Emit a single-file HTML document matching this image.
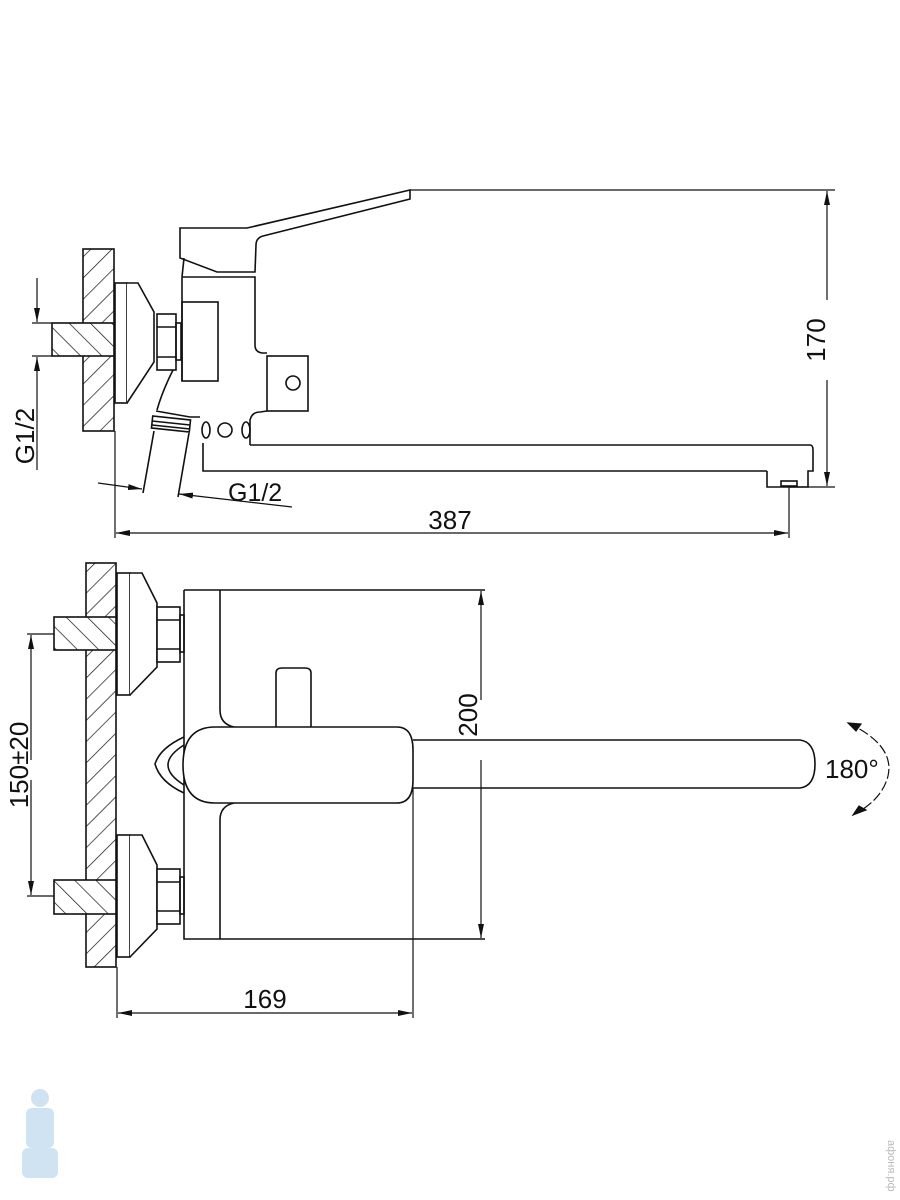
<!DOCTYPE html>
<html><head><meta charset="utf-8"><style>
html,body{margin:0;padding:0;background:#fff;}
svg{display:block;}
text{font-family:"Liberation Sans",sans-serif;fill:#111;}
</style></head><body>
<svg width="900" height="1200" viewBox="0 0 900 1200" xmlns="http://www.w3.org/2000/svg">
<defs>
<pattern id="h1" patternUnits="userSpaceOnUse" width="15" height="15" patternTransform="rotate(45)">
<rect width="15" height="15" fill="#fff"/><line x1="0" y1="0" x2="0" y2="15" stroke="#111" stroke-width="1.4"/></pattern>
<pattern id="h2" patternUnits="userSpaceOnUse" width="15" height="15" patternTransform="rotate(-45)">
<rect width="15" height="15" fill="#fff"/><line x1="0" y1="0" x2="0" y2="15" stroke="#111" stroke-width="1.4"/></pattern>
<marker id="a" markerWidth="14" markerHeight="6" refX="14" refY="3" orient="auto" markerUnits="userSpaceOnUse"><path d="M0,0 L14,3 L0,6z" fill="#111"/></marker>
</defs>
<g fill="none" stroke="#111" stroke-width="1.6">
<!-- ===== TOP VIEW ===== -->
<rect x="83" y="249" width="31" height="182" fill="url(#h1)"/>
<rect x="52" y="323" width="62" height="33" fill="url(#h2)"/>
<rect x="115" y="283" width="12" height="120" fill="#fff"/>
<path d="M127,283 L138,283 L154,312 L154,362 L127,403" fill="#fff"/>
<rect x="157" y="314" width="19" height="56" fill="#fff"/>
<line x1="157" y1="327" x2="176" y2="327"/><line x1="157" y1="357" x2="176" y2="357"/>
<rect x="176" y="323" width="5" height="37"/>
<path d="M182,277 L182,381 M182,277 L255,277 L255,345 Q255,352 262,353 L267,353"/>
<rect x="182" y="302" width="36" height="79"/>
<rect x="267" y="356" width="41" height="55"/>
<circle cx="293" cy="383" r="7"/>
<path d="M180,229 L180,258 L217,272 L255,272 L256,245 Q256,238 263,236 L410,199 L410,190 L247,228 L180,228Z"/>
<path d="M184,258 L182,277"/>
<path d="M173,370 Q162,392 157,410"/>
<path d="M156,411 L190,417 L200,417"/>
<rect x="152" y="418" width="38" height="12" transform="rotate(6 171 424)"/>
<line x1="152" y1="421" x2="190" y2="425"/><line x1="152" y1="425" x2="190" y2="429"/>
<line x1="154" y1="431" x2="143" y2="493"/><line x1="189" y1="433" x2="178" y2="497"/>
<ellipse cx="206" cy="430" rx="4" ry="8"/><circle cx="225" cy="430" r="7"/><ellipse cx="246" cy="430" rx="4" ry="8"/>
<path d="M250,445 L250,420 Q252,412 260,412 L267,411"/>
<path d="M203,443 L203,471 L767,471 M250,445 L810,445 Q813,445 813,450 L813,471 L808,471 L808,487 L767,487 L767,471"/>
<rect x="781" y="481" width="16" height="5"/>
<g stroke-width="1.2">
<line x1="410" y1="190" x2="835" y2="190"/>
<line x1="790" y1="487" x2="835" y2="487"/>
<line x1="827" y1="300" x2="827" y2="191" marker-end="url(#a)"/>
<line x1="827" y1="380" x2="827" y2="486" marker-end="url(#a)"/>
<line x1="115" y1="431" x2="115" y2="538"/>
<line x1="789" y1="487" x2="789" y2="538"/>
<line x1="450" y1="533" x2="116" y2="533" marker-end="url(#a)"/>
<line x1="450" y1="533" x2="788" y2="533" marker-end="url(#a)"/>
<line x1="32" y1="323" x2="52" y2="323"/><line x1="32" y1="356" x2="52" y2="356"/>
<line x1="37" y1="278" x2="37" y2="322" marker-end="url(#a)"/>
<line x1="37" y1="470" x2="37" y2="357" marker-end="url(#a)"/>
<line x1="98" y1="483" x2="142" y2="489" marker-end="url(#a)"/>
<line x1="292" y1="507" x2="179" y2="494" marker-end="url(#a)"/>
</g>
<!-- ===== BOTTOM VIEW ===== -->
<rect x="86" y="563" width="30" height="404" fill="url(#h1)"/>
<rect x="54" y="617" width="62" height="33" fill="url(#h2)"/>
<rect x="54" y="880" width="62" height="34" fill="url(#h2)"/>
<g id="fl">
<rect x="117" y="573" width="13" height="122" fill="#fff"/>
<path d="M130,573 L142,573 L157,603 L157,667 L130,695" fill="#fff"/>
<rect x="157" y="607" width="23" height="55" fill="#fff"/>
<line x1="157" y1="620" x2="180" y2="620"/><line x1="157" y1="649" x2="180" y2="649"/>
<rect x="180" y="615" width="4" height="37"/>
</g>
<use href="#fl" transform="translate(0,262)"/>
<path d="M184,590 L485,590 M184,590 L184,939 L485,939"/>
<path d="M220,590 L220,710 Q220,724 234,727"/>
<path d="M234,803 Q220,806 220,820 L220,939"/>
<path d="M276,727 L276,673 Q276,668 282,668 L305,668 Q311,668 311,673 L311,727"/>
<path d="M215,727 L397,727 Q413,727 413,750 L413,780 Q413,803 397,803 L215,803 Q183,803 183,765 Q183,727 215,727Z" fill="#fff"/>
<path d="M184,737 Q160,748 155,764 Q160,782 184,793"/>
<path d="M184,745 Q168,755 168,765 Q168,775 184,785"/>
<path d="M413,740 L800,740 Q815,742 815,764 Q815,786 800,788 L413,788"/>
<line x1="413" y1="788" x2="413" y2="1018" stroke-width="1.2"/>
<g stroke-width="1.2">
<line x1="481" y1="700" x2="481" y2="591" marker-end="url(#a)"/>
<line x1="481" y1="760" x2="481" y2="938" marker-end="url(#a)"/>
<line x1="27" y1="634" x2="54" y2="634"/><line x1="27" y1="896" x2="54" y2="896"/>
<line x1="31" y1="760" x2="31" y2="635" marker-end="url(#a)"/>
<line x1="31" y1="780" x2="31" y2="895" marker-end="url(#a)"/>
<line x1="117" y1="967" x2="117" y2="1018"/>
<line x1="265" y1="1013" x2="118" y2="1013" marker-end="url(#a)"/>
<line x1="265" y1="1013" x2="412" y2="1013" marker-end="url(#a)"/>
<path d="M848,723 Q895,745 888,776 Q882,800 853,815" stroke-dasharray="10,3"/>
<path d="M848,723 L861,724 L856,731Z" fill="#111"/>
<path d="M853,815 L866,810 L859,806Z" fill="#111"/>
</g>
</g>
<text x="450" y="529" font-size="26" text-anchor="middle">387</text>
<text transform="translate(825,340) rotate(-90)" font-size="26" text-anchor="middle">170</text>
<text transform="translate(34,436) rotate(-90)" font-size="26" text-anchor="middle">G1/2</text>
<text x="228" y="501" font-size="25">G1/2</text>
<text transform="translate(477,715) rotate(-90)" font-size="26" text-anchor="middle">200</text>
<text transform="translate(28,765) rotate(-90)" font-size="26" text-anchor="middle">150±20</text>
<text x="265" y="1008" font-size="26" text-anchor="middle">169</text>
<text x="825" y="778" font-size="26">180°</text>
<text transform="translate(888,1140) rotate(90)" font-size="11" style="fill:#bbb">афоня.рф</text>
<g fill="#cfe3f3"><circle cx="40" cy="1098" r="9"/><rect x="26" y="1108" width="28" height="40" rx="6"/><rect x="22" y="1148" width="36" height="30" rx="6"/></g>
</svg>
</body></html>
